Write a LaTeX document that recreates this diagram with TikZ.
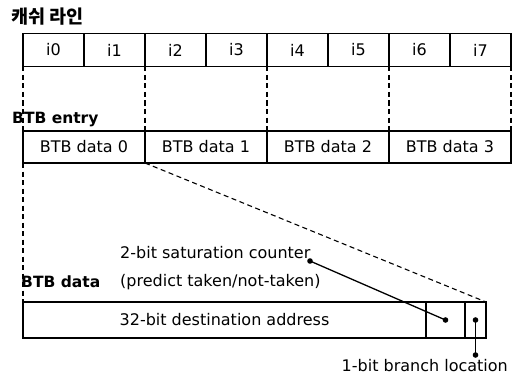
\documentclass[tikz,border=0pt]{standalone}
\usepackage{fontspec}
\setmainfont{DejaVu Sans}
\newfontfamily\kofont{Noto Sans CJK KR}
\usetikzlibrary{positioning}

\tikzset{
  box/.style={draw,line width=1.3pt,inner sep=0pt,outer sep=0pt,
    font=\fontsize{16}{19}\selectfont},
  cell/.style={box,minimum height=33pt,minimum width=61pt},
  entry/.style={box,minimum height=32pt,minimum width=122pt},
  title/.style={inner sep=0pt,anchor=west,font=\fontsize{15.5}{18}\selectfont\bfseries},
  note/.style={inner sep=0pt,anchor=west,font=\fontsize{16}{19}\selectfont},
  guide/.style={dashed,line width=1.1pt,dash pattern=on 5pt off 3.5pt},
  pin/.style={line width=1.3pt}
}

\begin{document}
\begin{tikzpicture}[x=1pt,y=-1pt]
  \useasboundingbox (0,0) rectangle (521,377);

  % cache line
  \node[title,font=\fontsize{18.5}{21}\selectfont\kofont\bfseries] (cltitle) at (11,17) {캐쉬 라인};
  \foreach \i in {0,...,7}
    \node[cell] (c\i) at ({53.5+61*\i},50) {i\i};

  % BTB entry
  \node[title] (entitle) at (12,120) {BTB entry};
  \foreach \i in {0,...,3}
    \node[entry] (e\i) at ({84+122*\i},147) {BTB data \i};

  \draw[guide] (c0.south west) -- (e0.north west);
  \draw[guide] (c2.south west) -- (e1.north west);
  \draw[guide] (c4.south west) -- (e2.north west);
  \draw[guide] (c6.south west) -- (e3.north west);
  \draw[guide] (c7.south east) -- (e3.north east);

  % BTB data
  \node[title] (datitle) at (21,282) {BTB data};
  \node[box,minimum height=36pt,minimum width=403pt] (addr) at (224.5,320)
    {32-bit destination address};
  \node[box,minimum height=36pt,minimum width=39pt] (cnt) at (445.5,320) {};
  \node[box,minimum height=36pt,minimum width=21pt] (loc) at (475.5,320) {};

  \draw[guide] (e0.south west) -- (addr.north west);
  \draw[guide] (e0.south east) -- (loc.north east);

  \node[note] (sat) at (120,253) {2-bit saturation counter};
  \node[note] (pred) at (120,282) {(predict taken/not-taken)};
  \node[note,anchor=east] (brl) at (508,366) {1-bit branch location};

  \coordinate (satpt) at (310,261);
  \coordinate (brlpt) at (475.5,355);

  \draw[pin] (satpt) -- (cnt.center);
  \draw[pin] (loc.center) -- (brlpt);
  \foreach \p in {satpt,cnt.center,loc.center,brlpt}
    \fill (\p) circle (2.8pt);
\end{tikzpicture}
\end{document}
